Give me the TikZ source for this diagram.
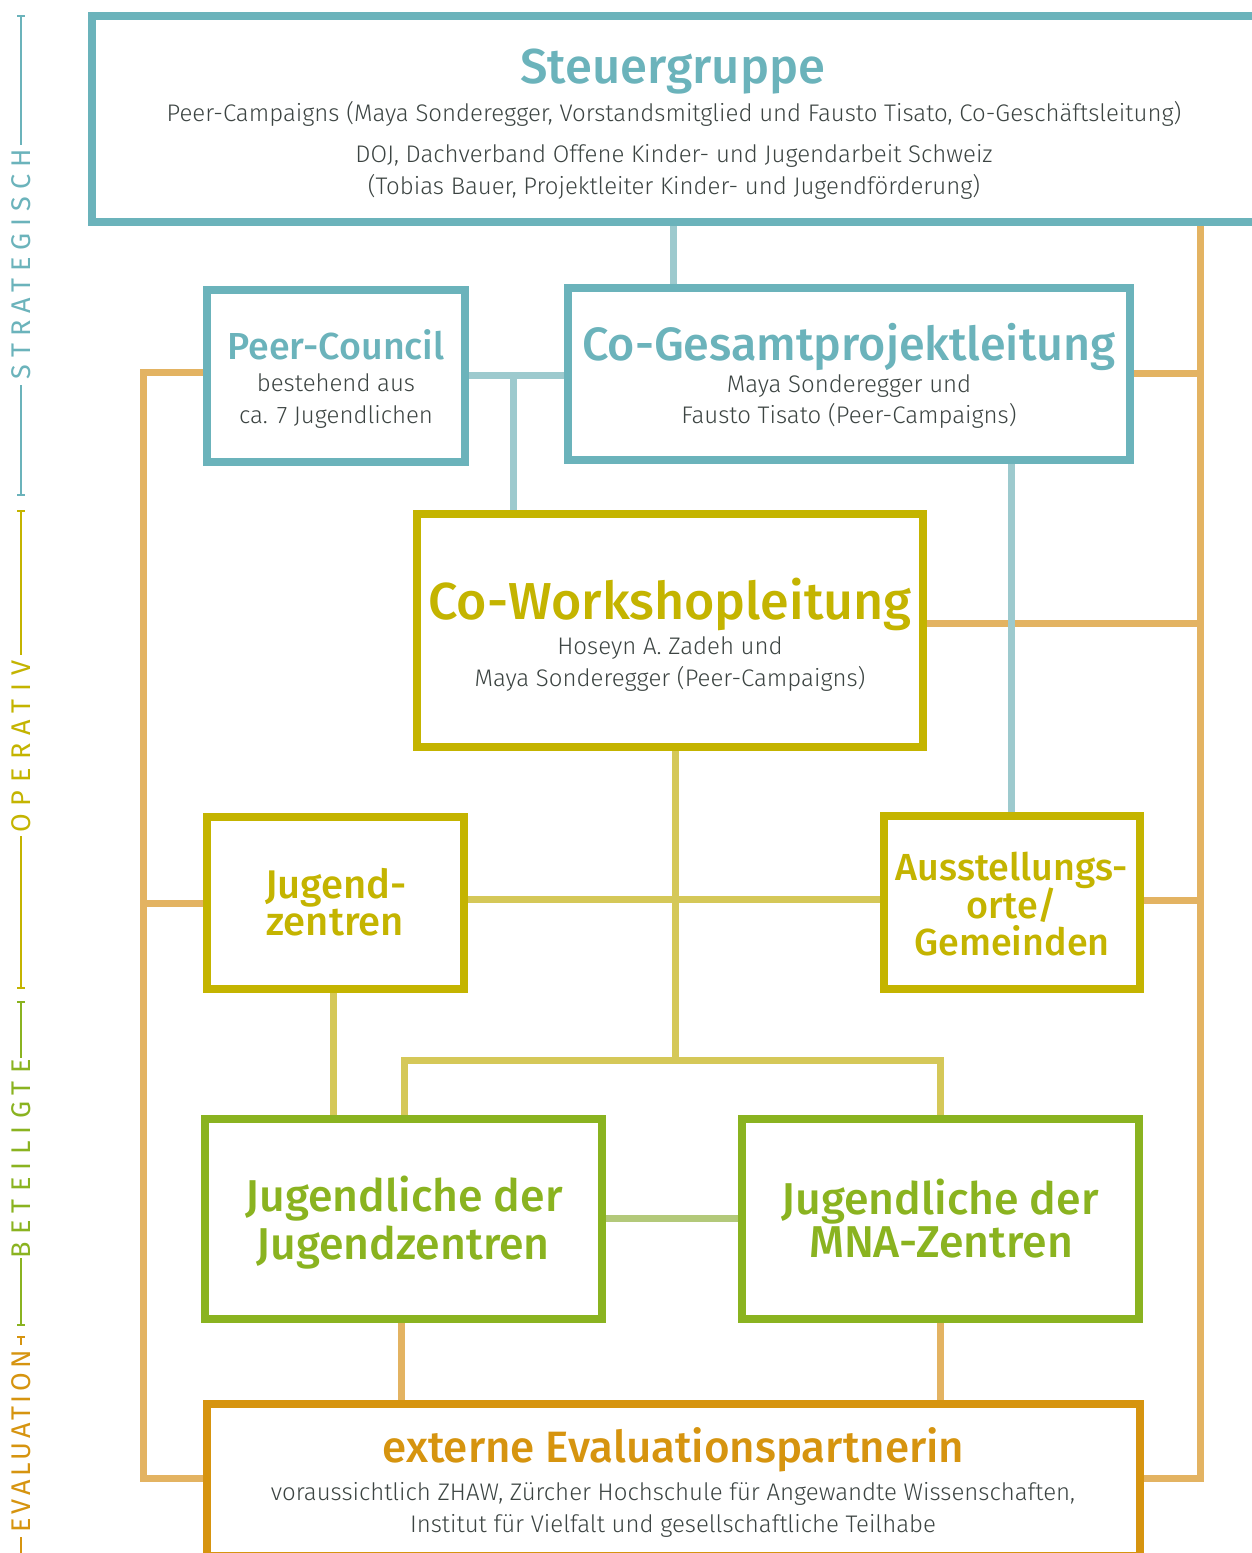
\documentclass[tikz,border=0pt]{standalone}
\usepackage{fontspec}
\setmainfont{Fira Sans}[UprightFont={* Light},BoldFont={* Medium}]
\newfontfamily\sidefont{Fira Sans}
\definecolor{tealB}{HTML}{6BB3BB}
\definecolor{tealL}{HTML}{9DCACE}
\definecolor{oliveB}{HTML}{C4B400}
\definecolor{oliveL}{HTML}{D5C858}
\definecolor{greenB}{HTML}{8AB320}
\definecolor{greenL}{HTML}{B3C97A}
\definecolor{orangeB}{HTML}{D6940F}
\definecolor{orangeL}{HTML}{E3B362}
\definecolor{txt}{HTML}{3C4442}
\tikzset{
  box/.style={draw=#1,line width=8pt,inner sep=0pt,rectangle},
  conn/.style={draw=#1,line width=7pt,line cap=butt,line join=miter},
  ttl/.style={anchor=base,inner sep=0pt,font=\bfseries},
  bod/.style={anchor=base,inner sep=0pt,text=txt},
  side/.style={draw=#1,line width=2pt},
  sidetxt/.style={rotate=90,inner sep=0pt},
}
\newcommand{\bsz}{\fontsize{24}{24}\selectfont}
\begin{document}
\begin{tikzpicture}[x=1pt,y=-1pt]
\useasboundingbox[fill=white] (0,0) rectangle (1252,1553);

% ---------- boxes ----------
\node[box=tealB,minimum width=1168pt,minimum height=206pt] (stg) at (676,119) {};
\node[box=tealB,minimum width=258pt,minimum height=172pt] (pc) at (336,376) {};
\node[box=tealB,minimum width=562pt,minimum height=172pt] (cg) at (849,374) {};
\node[box=oliveB,minimum width=506pt,minimum height=233pt] (cw) at (670,630.5) {};
\node[box=oliveB,minimum width=257pt,minimum height=172pt] (jz) at (335.5,903) {};
\node[box=oliveB,minimum width=256pt,minimum height=173pt] (ao) at (1012,902.5) {};
\node[box=greenB,minimum width=397pt,minimum height=200pt] (jj) at (403.5,1219) {};
\node[box=greenB,minimum width=397pt,minimum height=200pt] (jm) at (940.5,1219) {};
\node[box=orangeB,minimum width=933pt,minimum height=152pt] (ev) at (673.5,1480) {};

% ---------- orange connectors ----------
\draw[conn=orangeL] (pc.west |- 0,372) -- (143,372) -- (143,1478) -- (ev.west |- 0,1478);
\draw[conn=orangeL] (jz.west) -- (143,0 |- jz.west);
\draw[conn=orangeL] (1200,0 |- stg.south) -- (1200,1478) -- (ev.east |- 0,1478);
\draw[conn=orangeL] (cg.east |- 0,373) -- (1200,373);
\draw[conn=orangeL] (cw.east |- 0,623) -- (1200,623);
\draw[conn=orangeL] (ao.east |- 0,900) -- (1200,900);
\draw[conn=orangeL] (401,0 |- jj.south) -- (401,0 |- ev.north);
\draw[conn=orangeL] (940,0 |- jm.south) -- (940,0 |- ev.north);

% ---------- teal connectors ----------
\draw[conn=tealL] (673,0 |- stg.south) -- (673,0 |- cg.north);
\draw[conn=tealL] (pc.east |- 0,375) -- (cg.west |- 0,375);
\draw[conn=tealL] (513,375) -- (513,0 |- cw.north);
\draw[conn=tealL] (1011,0 |- cg.south) -- (1011,0 |- ao.north);

% ---------- olive connectors ----------
\draw[conn=oliveL] (675,0 |- cw.south) -- (675,1060);
\draw[conn=oliveL] (404,0 |- jj.north) -- (404,1060) -- (940,1060) -- (940,0 |- jm.north);
\draw[conn=oliveL] (jz.east |- 0,899) -- (ao.west |- 0,899);
\draw[conn=oliveL] (333,0 |- jz.south) -- (333,0 |- jj.north);

% ---------- green connector ----------
\draw[conn=greenL] (jj.east |- 0,1218) -- (jm.west |- 0,1218);

% ---------- texts ----------
\node[ttl,text=tealB] (t1) at (673,83) {\fontsize{49}{49}\selectfont Steuergruppe};
\node[bod] (t1a) at (674,121) {\bsz Peer-Campaigns (Maya Sonderegger, Vorstandsmitglied und Fausto Tisato, Co-Geschäftsleitung)};
\node[bod] (t1b) at (674,162) {\bsz DOJ, Dachverband Offene Kinder- und Jugendarbeit Schweiz};
\node[bod] (t1c) at (674,194) {\bsz (Tobias Bauer, Projektleiter Kinder- und Jugendförderung)};

\node[ttl,text=tealB] (t2) at (336,359) {\fontsize{37.6}{37.6}\selectfont Peer-Council};
\node[bod] (t2a) at (336,391) {\bsz bestehend aus};
\node[bod] (t2b) at (336,423) {\bsz ca. 7 Jugendlichen};

\node[ttl,text=tealB] (t3) at (849,360) {\fontsize{46.7}{46.7}\selectfont Co-Gesamtprojektleitung};
\node[bod] (t3a) at (849,392) {\bsz Maya Sonderegger und};
\node[bod] (t3b) at (849,423) {\bsz Fausto Tisato (Peer-Campaigns)};

\node[ttl,text=oliveB] (t4) at (670,619) {\fontsize{52}{52}\selectfont Co-Workshopleitung};
\node[bod] (t4a) at (670,654) {\bsz Hoseyn A. Zadeh und};
\node[bod] (t4b) at (670,686) {\bsz Maya Sonderegger (Peer-Campaigns)};

\node[ttl,text=oliveB] (t5a) at (336,898) {\fontsize{40}{40}\selectfont Jugend-};
\node[ttl,text=oliveB] (t5b) at (335,935) {\fontsize{40}{40}\selectfont zentren};

\node[ttl,text=oliveB] (t6a) at (1012,880) {\fontsize{37.7}{37.7}\selectfont Ausstellungs-};
\node[ttl,text=oliveB] (t6b) at (1012,918) {\fontsize{37.7}{37.7}\selectfont orte/};
\node[ttl,text=oliveB] (t6c) at (1012,955) {\fontsize{37.7}{37.7}\selectfont Gemeinden};

\node[ttl,text=greenB] (t7a) at (404,1211) {\fontsize{44.6}{44.6}\selectfont Jugendliche der};
\node[ttl,text=greenB] (t7b) at (403,1259) {\fontsize{44.6}{44.6}\selectfont Jugendzentren};
\node[ttl,text=greenB] (t8a) at (940,1214) {\fontsize{44.6}{44.6}\selectfont Jugendliche der};
\node[ttl,text=greenB] (t8b) at (941,1257) {\fontsize{44.6}{44.6}\selectfont MNA-Zentren};

\node[ttl,text=orangeB] (t9) at (673.5,1462) {\fontsize{43.9}{43.9}\selectfont externe Evaluationspartnerin};
\node[bod] (t9a) at (673,1500) {\bsz voraussichtlich ZHAW, Zürcher Hochschule für Angewandte Wissenschaften,};
\node[bod] (t9b) at (673,1532) {\bsz Institut für Vielfalt und gesellschaftliche Teilhabe};

% ---------- side labels ----------
\draw[side=tealB] (17,16) -- (25,16) (21,16) -- (21,145) (21,385) -- (21,495) (17,495) -- (25,495);
\node[sidetxt,text=tealB] (s1) at (21,264) {\sidefont\fontsize{27}{27}\selectfont\addfontfeature{LetterSpace=26}STRATEGISCH};
\draw[side=oliveB] (17,511) -- (25,511) (21,511) -- (21,655) (21,836) -- (21,988) (17,988) -- (25,988);
\node[sidetxt,text=oliveB] (s2) at (21,746.5) {\sidefont\fontsize{27}{27}\selectfont\addfontfeature{LetterSpace=30}OPERATIV};
\draw[side=greenB] (17,1002) -- (25,1002) (21,1002) -- (21,1058) (21,1258) -- (21,1325) (17,1325) -- (25,1325);
\node[sidetxt,text=greenB] (s3) at (21,1159) {\sidefont\fontsize{27}{27}\selectfont\addfontfeature{LetterSpace=27}BETEILIGTE};
\draw[side=orangeB] (17,1337) -- (25,1337) (21,1337) -- (21,1345) (21,1537) -- (21,1553);
\node[sidetxt,text=orangeB] (s4) at (21,1441.5) {\sidefont\fontsize{27}{27}\selectfont\addfontfeature{LetterSpace=14}EVALUATION};
\end{tikzpicture}
\end{document}
